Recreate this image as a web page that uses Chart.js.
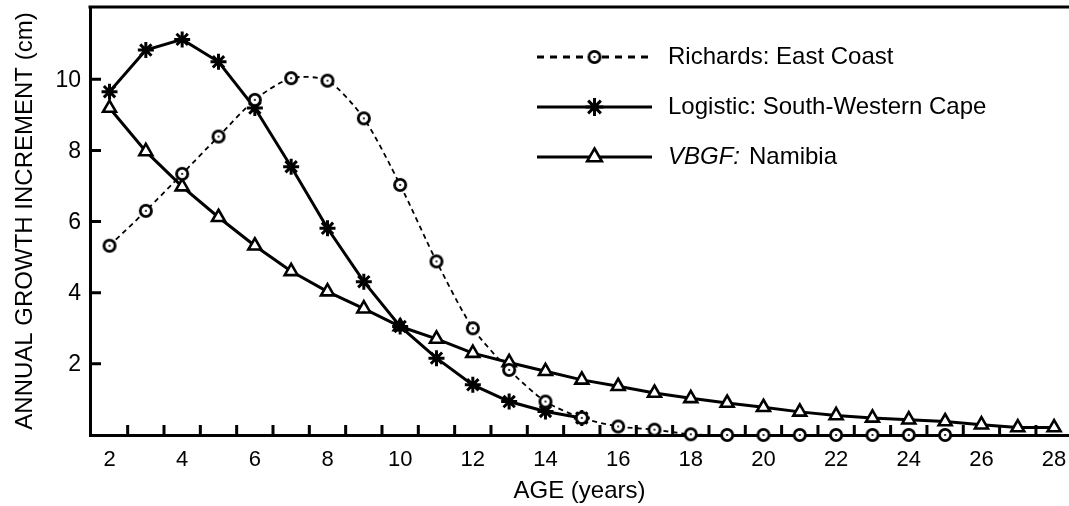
<!DOCTYPE html>
<html>
<head>
<meta charset="utf-8">
<script src="https://cdn.jsdelivr.net/npm/chart.js@4.4.1/dist/chart.umd.min.js"></script>
<style>
  html, body { margin: 0; padding: 0; background: #fff; }
</style>
</head>
<body>
<canvas id="growthChart" width="1069" height="506"></canvas>
<script>
const ages = [2, 3, 4, 5, 6, 7, 8, 9, 10, 11, 12, 13, 14, 15, 16, 17, 18, 19, 20, 21, 22, 23, 24, 25, 26, 27, 28];

const richards = [5.32, 6.30, 7.34, 8.39, 9.42, 10.03, 9.96, 8.90, 7.03, 4.88, 3.00, 1.83, 0.94, 0.48, 0.24, 0.15, 0.02, 0, 0, 0, 0, 0, 0, 0];
const logistic = [9.65, 10.82, 11.12, 10.49, 9.19, 7.54, 5.81, 4.31, 3.05, 2.16, 1.41, 0.94, 0.66, 0.48];
const vbgf = [9.19, 7.97, 6.98, 6.12, 5.32, 4.60, 4.03, 3.55, 3.05, 2.70, 2.30, 2.04, 1.79, 1.55, 1.37, 1.18, 1.03, 0.90, 0.78, 0.65, 0.55, 0.48, 0.43, 0.38, 0.29, 0.21, 0.21];

const seriesNames = ["Richards: East Coast", "Logistic: South-Western Cape", "VBGF: Namibia"];
const italicPrefix = [false, false, true];

const xLabels = [2, 4, 6, 8, 10, 12, 14, 16, 18, 20, 22, 24, 26, 28];
const xMinorTicks = [2.5, 3.5, 4.5, 5.5, 6.5, 7.5, 8.5, 9.5, 10.5, 11.5, 12.5, 13.5, 14.5, 15.5, 16.5, 17.5, 18.5, 19.5, 20.5, 21.5, 22.5, 23.5, 24.5, 25.5, 26.5, 27.5];
const yLabels = [2, 4, 6, 8, 10];

const FONT = '"Liberation Sans", Arial, Helvetica, sans-serif';

// open circle marker with a small dot, used for the Richards curve
function makeRingMarker() {
  const c = document.createElement("canvas");
  c.width = 18;
  c.height = 18;
  const g = c.getContext("2d");
  g.beginPath();
  g.arc(9, 9, 5.6, 0, Math.PI * 2);
  g.fillStyle = "#fff";
  g.fill();
  g.lineWidth = 2.8;
  g.strokeStyle = "#000";
  g.stroke();
  g.beginPath();
  g.arc(9, 9, 1.1, 0, Math.PI * 2);
  g.fillStyle = "#000";
  g.fill();
  return c;
}
const ringMarker = makeRingMarker();

const toPoints = (vals) => vals.map((v, i) => ({ x: ages[i], y: v }));

const framePlugin = {
  id: "frame",
  beforeDatasetsDraw(chart) {
    const { ctx, chartArea: a, scales: { x, y } } = chart;
    ctx.save();
    ctx.strokeStyle = "#000";
    ctx.lineWidth = 3;
    ctx.beginPath();
    ctx.moveTo(a.left - 1.5, a.top);
    ctx.lineTo(chart.width, a.top);
    xMinorTicks.forEach((v) => {
      const px = x.getPixelForValue(v);
      ctx.moveTo(px, a.bottom);
      ctx.lineTo(px, a.bottom - 10);
    });
    yLabels.forEach((v) => {
      const py = y.getPixelForValue(v);
      ctx.moveTo(a.left, py);
      ctx.lineTo(a.left + 11, py);
    });
    ctx.stroke();

    // tick labels
    ctx.fillStyle = "#000";
    ctx.textBaseline = "middle";
    ctx.textAlign = "center";
    ctx.font = `22px ${FONT}`;
    xLabels.forEach((v) => ctx.fillText(String(v), x.getPixelForValue(v), a.bottom + 25));
    ctx.textAlign = "right";
    ctx.font = `23px ${FONT}`;
    yLabels.forEach((v) => ctx.fillText(String(v), a.left - 9, y.getPixelForValue(v) + 1));
    ctx.restore();
  },
  afterDraw(chart, args, opts) {
    const ctx = chart.ctx;
    ctx.save();
    chart.data.datasets.forEach((ds, i) => {
      const yy = opts.top + i * opts.gap;
      ctx.strokeStyle = "#000";
      ctx.lineWidth = 3;
      ctx.setLineDash(ds.borderDash ? [7, 6] : []);
      ctx.beginPath();
      ctx.moveTo(opts.lineStart, yy);
      ctx.lineTo(opts.lineEnd, yy);
      ctx.stroke();
      ctx.setLineDash([]);

      ctx.fillStyle = "#fff";
      ctx.lineWidth = ds.pointBorderWidth;
      Chart.helpers.drawPoint(ctx, {
        pointStyle: ds.pointStyle,
        radius: ds.pointRadius + 1,
        borderWidth: ds.pointBorderWidth,
        rotation: 0,
      }, (opts.lineStart + opts.lineEnd) / 2, yy);

      ctx.fillStyle = "#000";
      ctx.textBaseline = "middle";
      ctx.textAlign = "left";
      const name = seriesNames[i];
      let tx = opts.textX;
      if (italicPrefix[i]) {
        const cut = name.indexOf(":") + 1;
        ctx.font = `italic ${opts.size}px ${FONT}`;
        ctx.fillText(name.slice(0, cut), tx, yy);
        tx += ctx.measureText(name.slice(0, cut)).width + 9;
        ctx.font = `${opts.size}px ${FONT}`;
        ctx.fillText(name.slice(cut).trim(), tx, yy);
      } else {
        ctx.font = `${opts.size}px ${FONT}`;
        ctx.fillText(name, tx, yy);
      }
    });
    ctx.restore();
  },
};

new Chart(document.getElementById("growthChart"), {
  type: "line",
  data: {
    datasets: [
      {
        label: seriesNames[0],
        data: toPoints(richards),
        borderColor: "#000",
        borderWidth: 1.8,
        borderDash: [5, 4],
        tension: 0.25,
        pointStyle: ringMarker,
        pointRadius: 6,
        pointBorderWidth: 2.8,
        pointBackgroundColor: "#fff",
        pointBorderColor: "#000",
        clip: false,
      },
      {
        label: seriesNames[1],
        data: toPoints(logistic),
        borderColor: "#000",
        borderWidth: 3,
        pointStyle: "star",
        pointRadius: 8,
        pointBorderWidth: 3,
        pointBackgroundColor: "#fff",
        pointBorderColor: "#000",
        clip: false,
      },
      {
        label: seriesNames[2],
        data: toPoints(vbgf),
        borderColor: "#000",
        borderWidth: 3,
        pointStyle: "triangle",
        pointRadius: 7.5,
        pointBorderWidth: 2.6,
        pointBackgroundColor: "#fff",
        pointBorderColor: "#000",
        clip: false,
      },
    ],
  },
  options: {
    responsive: false,
    animation: false,
    devicePixelRatio: 1,
    layout: { autoPadding: false, padding: { top: 7, left: 0, right: 0, bottom: 0 } },
    plugins: {
      legend: { display: false },
      tooltip: { enabled: false },
      frame: { lineStart: 537, lineEnd: 652, textX: 668, top: 57, gap: 50, size: 24 },
    },
    scales: {
      x: {
        type: "linear",
        min: 1.463,
        max: 28.41,
        afterFit: (s) => { s.height = 71; s.paddingLeft = 0; s.paddingRight = 0; },
        grid: { display: false, drawTicks: false },
        border: { display: true, color: "#000", width: 3 },
        ticks: { display: false },
        title: {
          display: true,
          text: "AGE (years)",
          color: "#000",
          font: { family: FONT, size: 24 },
          padding: { top: 0, bottom: 0 },
        },
      },
      y: {
        min: 0,
        max: 12.03,
        afterFit: (s) => { s.width = 90; s.paddingTop = 0; s.paddingBottom = 0; },
        grid: { display: false, drawTicks: false },
        border: { display: true, color: "#000", width: 3 },
        ticks: { display: false },
        title: {
          display: true,
          text: "ANNUAL GROWTH INCREMENT (cm)",
          color: "#000",
          font: { family: FONT, size: 24 },
          padding: { top: 11, bottom: 0 },
        },
      },
    },
  },
  plugins: [framePlugin],
});
</script>
</body>
</html>
